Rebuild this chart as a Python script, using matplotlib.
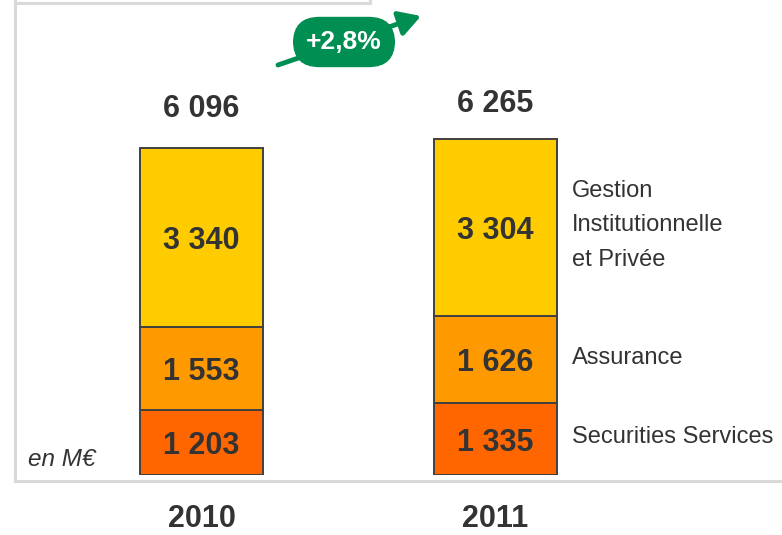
import matplotlib
matplotlib.use("Agg")
import matplotlib.pyplot as plt
from matplotlib.lines import Line2D
import numpy as np

years = ["2010", "2011"]
securities = [1203, 1335]
assurance = [1553, 1626]
gestion = [3340, 3304]
totals = [6096, 6265]
segment_names = ["Securities Services", "Assurance", "Gestion\nInstitutionnelle\net Privée"]
growth_label = "+2,8%"
unit_label = "en M€"

colors = ["#FF6600", "#FF9900", "#FFCC00"]
edge = "#404040"
text_col = "#333333"
font = ["Liberation Sans", "DejaVu Sans"]


def fmt(v):
    return "{:,}".format(v).replace(",", " ")


W, H = 782, 535
fig = plt.figure(figsize=(W / 100, H / 100), dpi=100)
ax = fig.add_axes([0, 60 / H, 1, 475 / H])
ax.set_xlim(-201.5 / 294, (W - 201.5) / 294)
ax.set_ylim(0, 475 / 0.05364)
ax.axis("off")

x = np.arange(len(years))
bottom = np.zeros(len(years))
for vals, c in zip([securities, assurance, gestion], colors):
    ax.bar(x, vals, width=123 / 294, bottom=bottom, color=c,
           edgecolor=edge, linewidth=1.4, zorder=2)
    for xi, b, v in zip(x, bottom, vals):
        ax.annotate(fmt(v), (xi, b + v / 2), xytext=(0, -2.5),
                    textcoords="offset points", ha="center", va="center",
                    fontsize=22, fontweight="bold", color=text_col, family=font)
    bottom += np.array(vals)

# totals sit a little above each bar
for xi, t, off in zip(x, totals, [28, 25]):
    ax.annotate(fmt(t), (xi, t), xytext=(0, off), textcoords="offset points",
                ha="center", va="center", fontsize=22, fontweight="bold",
                color=text_col, family=font)

# year labels under the frame
for xi, yr in zip(x, years):
    ax.annotate(yr, (xi, 0), xytext=(0, -32), textcoords="offset points",
                ha="center", va="center", fontsize=22, fontweight="bold",
                color=text_col, family=font)

# segment names to the right of 2011 bar
seg_bottoms = [0, securities[1], securities[1] + assurance[1]]
seg_vals = [securities[1], assurance[1], gestion[1]]
for b, v, name in zip(seg_bottoms, seg_vals, segment_names):
    ax.annotate(name, (1 + 0.5 * 123 / 294, b + v / 2), xytext=(11, 1.5),
                textcoords="offset points", ha="left", va="center",
                fontsize=17, color=text_col, family=font, linespacing=1.72)

fig.text(28 / W, 1 - 460 / H, unit_label, ha="left", va="center",
         fontsize=17.5, style="italic", color=text_col, family=font)

# grey frame
fc = "#d9d9d9"
for xs, ys in [([15, 15], [481, 0]), ([15, W], [481, 481]),
               ([15, 370], [3, 3]), ([370, 370], [3, 0])]:
    fig.add_artist(Line2D([v / W for v in xs], [1 - v / H for v in ys],
                          color=fc, lw=2.2, transform=fig.transFigure))

# growth badge
green = "#008E52"
fig.add_artist(plt.Annotation("", xy=(421 / W, 1 - 16 / H), xytext=(278 / W, 1 - 65 / H),
                              xycoords=fig.transFigure, textcoords=fig.transFigure,
                              arrowprops=dict(arrowstyle="-|>,head_length=1.3,head_width=0.75",
                                              color=green, lw=3.5, shrinkA=0, shrinkB=0)))
fig.text(344 / W, 1 - 42 / H, growth_label, ha="center", va="center",
         fontsize=19, fontweight="bold", color="white", family=font,
         bbox=dict(boxstyle="round,pad=0.5,rounding_size=1.0", fc=green, ec="none"))

fig.savefig("out.png", dpi=100)
